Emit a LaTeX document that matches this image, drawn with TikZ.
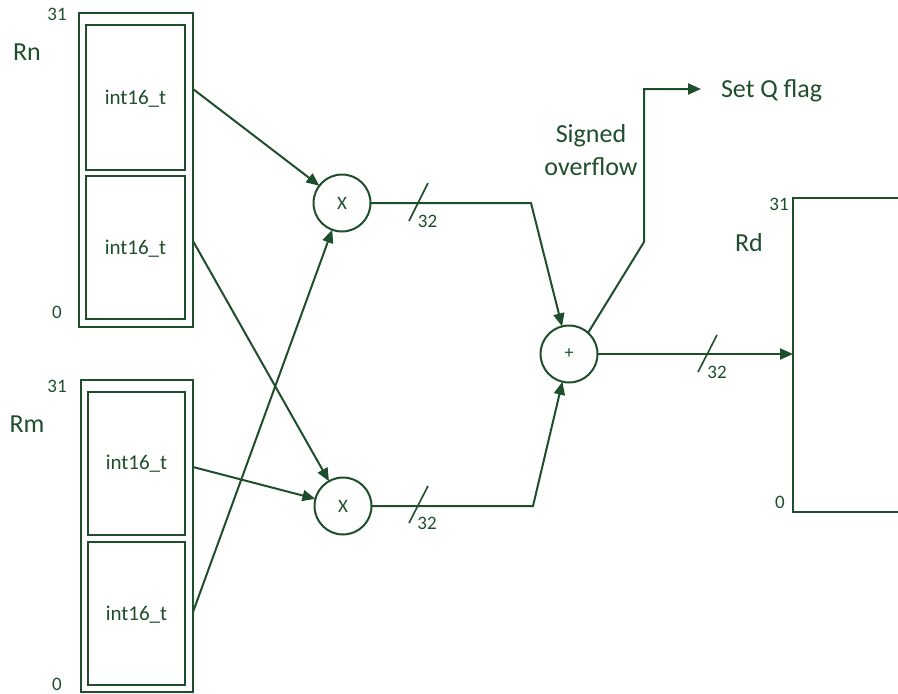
\documentclass[tikz,border=0pt]{standalone}
\usepackage{fontspec}
\setmainfont{Carlito}
\usetikzlibrary{arrows.meta}
\definecolor{dg}{RGB}{30,78,44}
\begin{document}
\begin{tikzpicture}[x=1pt,y=-1pt,line width=2pt,color=dg,
  reg/.style={draw=dg,rectangle,inner sep=0pt,outer sep=0pt},
  mulnode/.style={draw=dg,circle,inner sep=0pt,outer sep=0pt,minimum size=57pt,text=dg},
  lbl/.style={text=dg,inner sep=0pt,font=\fontsize{26}{30}\selectfont},
  num/.style={text=dg,inner sep=0pt,font=\fontsize{19}{22}\selectfont},
  typ/.style={text=dg,inner sep=0pt,anchor=base,font=\fontsize{21}{24}\selectfont},
  arr/.style={-{Triangle[length=13pt,width=11pt]},draw=dg}]
\useasboundingbox (0,0) rectangle (898,694);
% Rn register
\node[reg,minimum width=114pt,minimum height=314pt] (rn) at (136,170) {};
\node[reg,minimum width=99pt,minimum height=145pt] (rnhi) at (135.5,97.5) {};
\node[reg,minimum width=99pt,minimum height=143pt] (rnlo) at (135.5,247.5) {};
\node[typ] (trnhi) at (135.5,104) {int16\_t};
\node[typ] (trnlo) at (135.5,254) {int16\_t};
\node[num] (rn31) at (57,14) {31};
\node[num] (rn0) at (57,312) {0};
\node[lbl] (rnl) at (27,52) {Rn};
% Rm register
\node[reg,minimum width=112pt,minimum height=312pt] (rm) at (137,535.5) {};
\node[reg,minimum width=97pt,minimum height=143pt] (rmhi) at (136.5,463.5) {};
\node[reg,minimum width=97pt,minimum height=143pt] (rmlo) at (136.5,613.5) {};
\node[typ] (trmhi) at (136.5,469) {int16\_t};
\node[typ] (trmlo) at (136.5,620) {int16\_t};
\node[num] (rm31) at (57,386) {31};
\node[num] (rm0) at (57,684) {0};
\node[lbl] (rml) at (27,424) {Rm};
% operators
\node[mulnode,font=\fontsize{19}{21}\selectfont] (mt) at (342,203) {X};
\node[mulnode,font=\fontsize{19}{21}\selectfont] (mb) at (343,506) {X};
\node[mulnode,font=\fontsize{18}{20}\selectfont] (plus) at (569,354) {+};
% Rd register
\node[inner sep=0pt,outer sep=0pt,minimum width=106pt,minimum height=314pt] (rd) at (846,355) {};
\draw (rd.north east) -- (rd.north west) -- (rd.south west) -- (rd.south east);
\node[num] (rd31) at (779,204) {31};
\node[num] (rd0) at (780,502) {0};
\node[lbl] (rdl) at (749,243) {Rd};
% inputs
\coordinate (s1) at (193,89);
\coordinate (s2) at (193,241);
\coordinate (s3) at (193,467);
\coordinate (s4) at (193,612);
\draw[arr] (s1) -- (mt);
\draw[arr] (s2) -- (mb);
\draw[arr] (s3) -- (mb);
\draw[arr] (s4) -- (mt);
% products to adder
\coordinate (c1) at (531,203);
\coordinate (c2) at (533,506);
\draw[arr] (mt.east) -- (c1) -- (plus);
\draw[arr] (mb.east) -- (c2) -- (plus);
% result
\draw[arr] (plus.east) -- (plus.east -| rd.west);
% overflow
\coordinate (o1) at (644,242);
\coordinate (o2) at (644,89);
\coordinate (qf) at (701,89);
\draw[arr] (plus.48) -- (o1) -- (o2) -- (qf);
\node[lbl,anchor=west] (qtext) at (720,91) {Set Q flag};
\node[lbl,align=center,font=\fontsize{26}{33}\selectfont] (sov) at (591,150) {Signed\\overflow};
% bus width marks
\draw[line width=1.6pt] (409,221) -- (428,183);
\draw[line width=1.6pt] (409,523) -- (428,486);
\draw[line width=1.6pt] (698,372) -- (717,335);
\node[num] (w1) at (427.5,221.5) {32};
\node[num] (w2) at (427,523) {32};
\node[num] (w3) at (717,372) {32};
\end{tikzpicture}
\end{document}
